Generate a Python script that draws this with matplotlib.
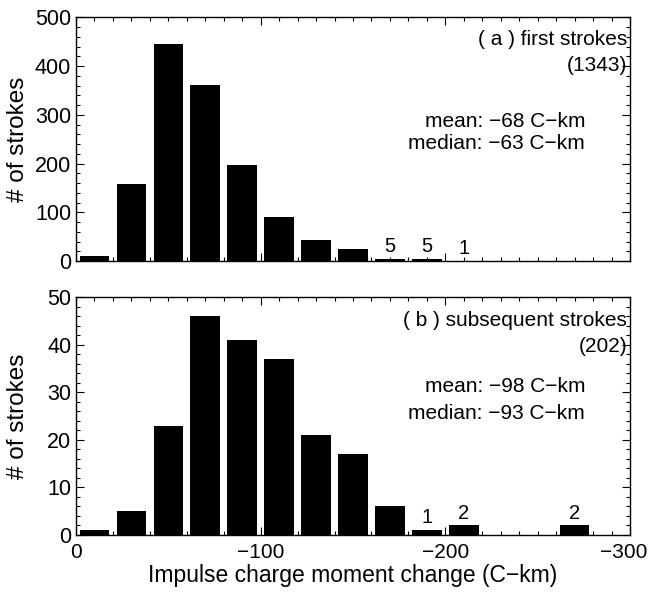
import numpy as np
import matplotlib
matplotlib.use("Agg")
import matplotlib.pyplot as plt
from matplotlib.ticker import MultipleLocator
from matplotlib.transforms import ScaledTranslation

plt.rcParams['font.family'] = ['Liberation Sans', 'DejaVu Sans']
plt.rcParams['axes.unicode_minus'] = True

# bin edges (C-km), 20 C-km wide bins from 0 to -280
bin_left = np.arange(0, -280, -20)
bin_width = 20

# counts per bin
first_counts = [10, 158, 446, 362, 197, 90, 44, 25, 5, 5, 1, 0, 0, 0]
subseq_counts = [1, 5, 23, 46, 41, 37, 21, 17, 6, 1, 2, 0, 0, 2]

# small bars labelled with their count
first_labels = [(8, '5'), (9, '5'), (10, '1')]
subseq_labels = [(9, '1'), (10, '2'), (13, '2')]

panels = [
    dict(counts=first_counts, labels=first_labels, ymax=500, major=100, minor=20,
         title='( a ) first strokes', total='(1343)', mean=-68, median=-63,
         pos=[76/650, 1-261/593, 554/650, 243.7/593],
         ty=[0.907, 0.804, 0.571, 0.484], loff=6),
    dict(counts=subseq_counts, labels=subseq_labels, ymax=50, major=10, minor=2,
         title='( b ) subsequent strokes', total='(202)', mean=-98, median=-93,
         pos=[76/650, 1-535/593, 554/650, 237.7/593],
         ty=[0.904, 0.795, 0.623, 0.513], loff=0.6),
]

fig = plt.figure(figsize=(6.5, 5.93), dpi=100)
fs = 15
axes = []
for i, p in enumerate(panels):
    ax = fig.add_axes(p['pos'])
    axes.append(ax)
    centers = bin_left - bin_width / 2
    ax.bar(centers, p['counts'], width=16, color='black', edgecolor='none')
    for idx, txt in p['labels']:
        ax.text(centers[idx], p['counts'][idx] + p['loff'], txt, ha='center',
                va='bottom', fontsize=14.5)
    ax.set_xlim(0, -300)
    ax.set_ylim(0, p['ymax'])
    ax.xaxis.set_major_locator(MultipleLocator(100))
    ax.xaxis.set_minor_locator(MultipleLocator(10))
    ax.yaxis.set_major_locator(MultipleLocator(p['major']))
    ax.yaxis.set_minor_locator(MultipleLocator(p['minor']))
    ax.tick_params(which='both', direction='in', top=True, right=True,
                   labelsize=15.5, width=0.8)
    ax.tick_params(which='major', length=6)
    ax.tick_params(which='minor', length=3)
    ax.tick_params(axis='x', pad=6, labelsize=15)
    for s in ax.spines.values():
        s.set_linewidth(1.0)
    ax.set_ylabel('# of strokes', fontsize=17.5)
    ax.yaxis.set_label_coords(-0.085, 0.5)
    if i == 0:
        ax.tick_params(labelbottom=False)
    else:
        ax.set_xlabel('Impulse charge moment change (C\u2212km)', fontsize=16.5,
                      labelpad=1)
    t = ax.transAxes
    ax.text(0.995, p['ty'][0], p['title'], transform=t, ha='right', va='center', fontsize=fs)
    ax.text(0.995, p['ty'][1], p['total'], transform=t, ha='right', va='center', fontsize=fs)
    ax.text(0.919, p['ty'][2], 'mean: \u2212%d C\u2212km' % abs(p['mean']),
            transform=t, ha='right', va='center', fontsize=fs)
    ax.text(0.919, p['ty'][3], 'median: \u2212%d C\u2212km' % abs(p['median']),
            transform=t, ha='right', va='center', fontsize=fs)

# keep the last x tick label inside the figure
fig.canvas.draw()
for tick in axes[1].xaxis.get_major_ticks():
    if abs(tick.get_loc() + 300) < 1e-6:
        lab = tick.label1
        lab.set_transform(lab.get_transform() +
                          ScaledTranslation(-6/100, 0, fig.dpi_scale_trans))

fig.savefig('out.png', dpi=100)
